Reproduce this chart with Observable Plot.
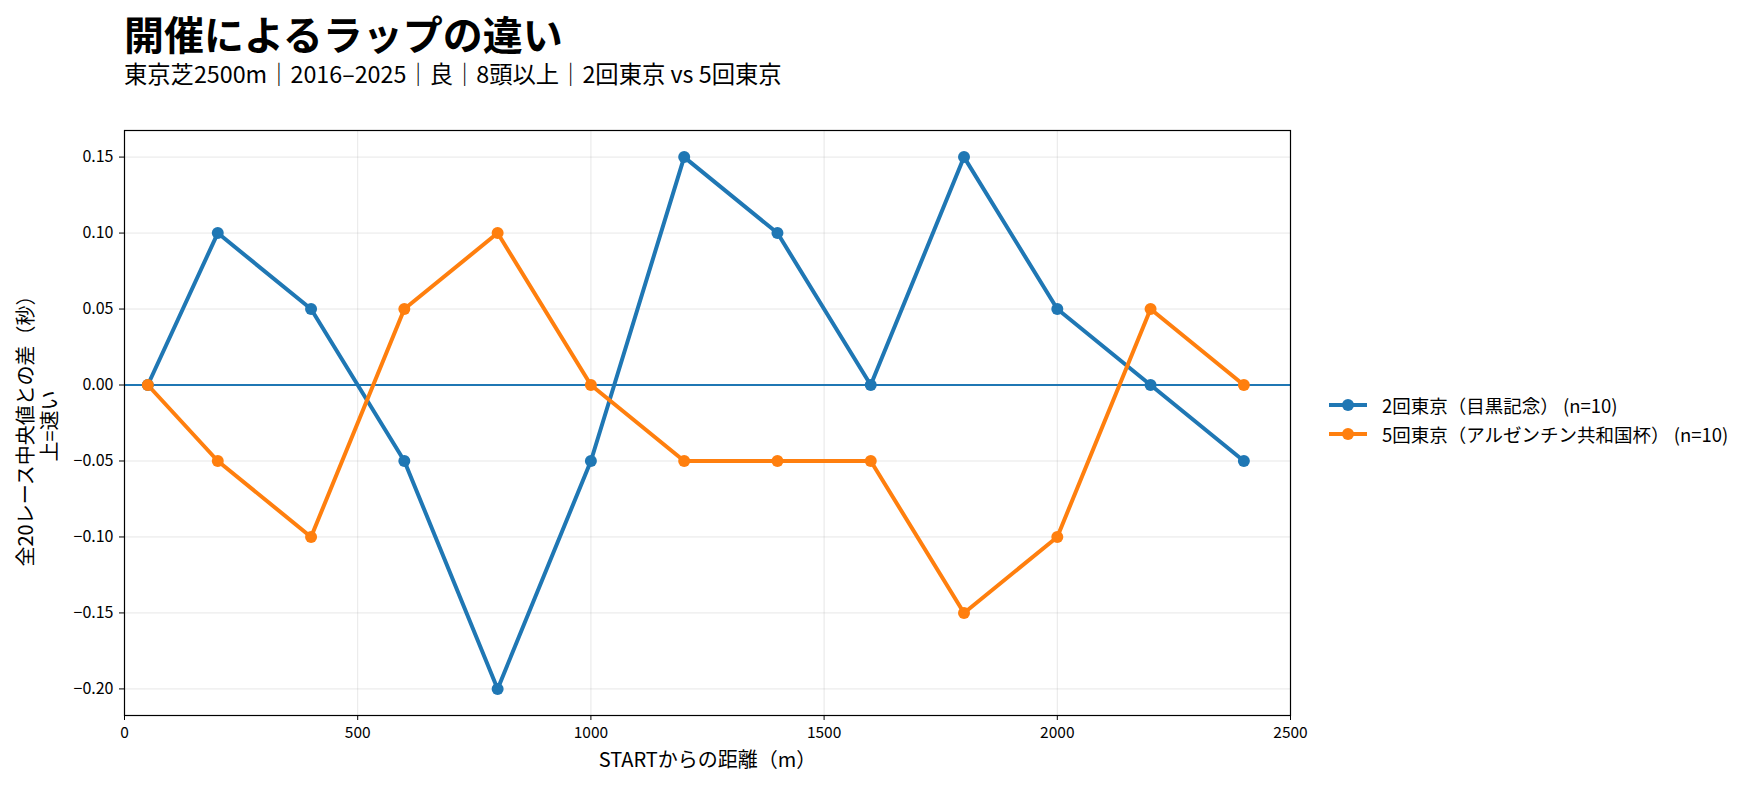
<!DOCTYPE html>
<html>
<head>
<meta charset="utf-8">
<script src="https://cdn.jsdelivr.net/npm/d3@7"></script>
<script src="https://cdn.jsdelivr.net/npm/@observablehq/plot@0.6"></script>
<style>
  html, body { margin: 0; padding: 0; background: #fff; }
  body { font-family: "Noto Sans CJK JP", "Noto Sans", sans-serif; color: #000; }
  #wrap { position: relative; width: 1754px; height: 789px; }
  #head { position: relative; height: 100px; }
  #title { position: absolute; left: 124px; top: 13px; font-size: 40px; font-weight: bold; line-height: 1; white-space: nowrap; }
  #subtitle { position: absolute; left: 124px; top: 62px; font-size: 23.3px; line-height: 1; white-space: nowrap; }
  #legend { position: absolute; left: 1328px; top: 390px; font-size: 18.5px; }
  .row { display: flex; align-items: center; height: 29px; white-space: nowrap; }
  .row svg { margin-right: 14px; }
  svg { display: block; }
</style>
</head>
<body>
<div id="wrap">
  <div id="head">
    <div id="title">開催によるラップの違い</div>
    <div id="subtitle">東京芝2500m｜2016–2025｜良｜8頭以上｜2回東京 vs 5回東京</div>
  </div>
  <div id="chart"></div>
  <div id="legend"></div>
</div>
<script>
// Data
const distances = [50, 200, 400, 600, 800, 1000, 1200, 1400, 1600, 1800, 2000, 2200, 2400];
const seriesNames = ["2回東京（目黒記念） (n=10)", "5回東京（アルゼンチン共和国杯） (n=10)"];
const tokyo2 = [0, 0.10, 0.05, -0.05, -0.20, -0.05, 0.15, 0.10, 0, 0.15, 0.05, 0, -0.05];
const tokyo5 = [0, -0.05, -0.10, 0.05, 0.10, 0, -0.05, -0.05, -0.05, -0.15, -0.10, 0.05, 0];
const colors = ["#1f77b4", "#ff7f0e"];
const xTicks = [0, 500, 1000, 1500, 2000, 2500];
const yTicks = [-0.20, -0.15, -0.10, -0.05, 0, 0.05, 0.10, 0.15];
const xLabel = "STARTからの距離（m）";
const yLabel = "全20レース中央値との差（秒）\n上=速い";

const rows = [];
[tokyo2, tokyo5].forEach((vals, si) => {
  vals.forEach((v, i) => rows.push({series: seriesNames[si], x: distances[i], y: v}));
});

const font = "Noto Sans CJK JP";
const chart = Plot.plot({
  width: 1754,
  height: 689,
  marginTop: 30,
  marginBottom: 74,
  marginLeft: 124,
  marginRight: 464,
  style: {fontFamily: font, fontSize: "16px", color: "#000", background: "#fff"},
  x: {domain: [0, 2500]},
  y: {domain: [-0.2175, 0.1675]},
  color: {domain: seriesNames, range: colors},
  marks: [
    Plot.gridX(xTicks, {stroke: "#b0b0b0", strokeOpacity: 0.3, strokeWidth: 1}),
    Plot.gridY(yTicks, {stroke: "#b0b0b0", strokeOpacity: 0.3, strokeWidth: 1}),
    Plot.ruleY([0], {stroke: "#1f77b4", strokeWidth: 2}),
    Plot.axisX({ticks: xTicks, tickFormat: d3.format("d"), tickSize: 5, tickPadding: 6, fontSize: 15.5, label: null}),
    Plot.axisY({ticks: yTicks, tickFormat: d3.format(".2f"), tickSize: 5, tickPadding: 6, fontSize: 16, label: null}),
    Plot.text([xLabel], {text: d => d, frameAnchor: "bottom", dy: 45, textAnchor: "middle", lineAnchor: "middle", fontSize: 20, fill: "#000"}),
    Plot.text([yLabel], {text: d => d, frameAnchor: "left", dx: -87, dy: 3, rotate: -90, textAnchor: "middle", lineAnchor: "middle", lineHeight: 1.2, fontSize: 20, fill: "#000"}),
    Plot.line(rows, {x: "x", y: "y", z: "series", stroke: "series", strokeWidth: 4}),
    Plot.dot(rows, {x: "x", y: "y", fill: "series", r: 6}),
    Plot.frame({stroke: "#000", strokeWidth: 1.2})
  ]
});
document.getElementById("chart").appendChild(chart);

// Legend
const legend = document.getElementById("legend");
seriesNames.forEach((lab, i) => {
  const row = document.createElement("div");
  row.className = "row";
  row.innerHTML = `<svg width="40" height="14"><line x1="1" x2="39" y1="7" y2="7" stroke="${colors[i]}" stroke-width="4"/><circle cx="20" cy="7" r="6" fill="${colors[i]}"/></svg><span>${lab}</span>`;
  legend.appendChild(row);
});
</script>
</body>
</html>
